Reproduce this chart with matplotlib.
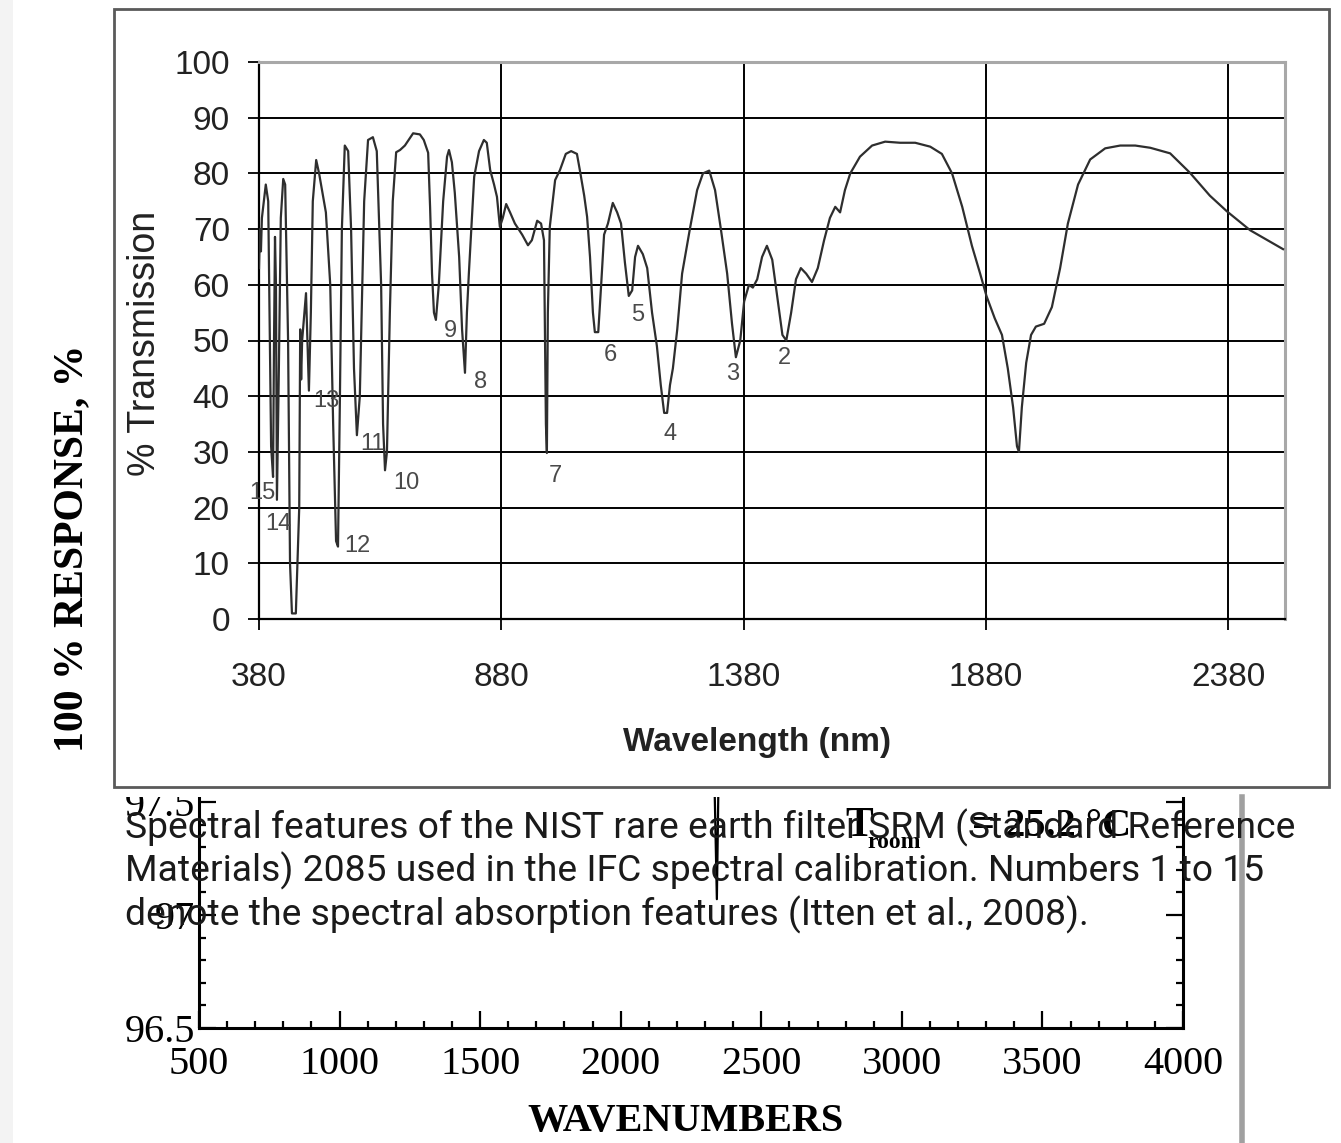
import matplotlib.pyplot as plt
from matplotlib.patches import Rectangle
from matplotlib.lines import Line2D
from matplotlib.ticker import MultipleLocator

# NIST SRM 2085 transmission spectrum
spec_nm = [380, 382, 384, 386, 394, 399, 405, 409, 411, 413, 415, 417, 421, 425,
           430, 434, 440, 444, 448, 456, 463, 465, 467, 469, 477, 483, 487, 491,
           498, 504, 510, 518, 527, 533, 539, 543, 547, 551, 557, 564, 570, 576,
           582, 588, 597, 605, 615, 623, 632, 636, 640, 644, 650, 656, 663, 671,
           681, 698, 712, 720, 729, 733, 737, 741, 745, 751, 760, 768, 772, 778,
           784, 793, 799, 805, 809, 813, 824, 834, 844, 850, 857, 865, 871, 877,
           883, 890, 898, 908, 923, 935, 943, 954, 962, 968, 972, 974, 976, 980,
           991, 1001, 1013, 1024, 1036, 1042, 1051, 1057, 1063, 1069, 1073, 1080,
           1086, 1092, 1100, 1110, 1119, 1127, 1135, 1143, 1150, 1156, 1162, 1172,
           1181, 1191, 1201, 1209, 1216, 1222, 1228, 1234, 1243, 1253, 1269, 1284,
           1296, 1309, 1321, 1333, 1346, 1356, 1364, 1373, 1381, 1391, 1399, 1408,
           1418, 1428, 1439, 1449, 1460, 1468, 1478, 1488, 1498, 1509, 1521, 1533,
           1546, 1558, 1569, 1579, 1589, 1600, 1620, 1645, 1672, 1703, 1734, 1765,
           1789, 1810, 1831, 1851, 1868, 1881, 1898, 1913, 1925, 1936, 1944, 1948,
           1954, 1963, 1973, 1983, 2000, 2016, 2033, 2049, 2070, 2095, 2126, 2157,
           2188, 2219, 2260, 2301, 2342, 2377, 2425, 2493]
spec_pct = [63, 70, 66, 72, 78, 75, 31, 25.5, 50, 68.6, 60, 21.4, 45, 72,
            79, 78, 50, 10, 1, 1, 20, 52, 43, 50, 58.5, 41, 55, 75,
            82.4, 80, 77, 73, 60, 35, 14, 13, 40, 70, 85, 84, 70, 45,
            33, 40, 75, 86, 86.5, 84, 60, 35, 26.7, 30, 55, 75, 83.8, 84.2,
            85, 87.2, 87, 86, 83.7, 74, 62, 55, 53.7, 60, 75, 83, 84.2, 82,
            76.5, 65, 52, 44.2, 55, 62, 79.4, 84, 86, 85.5, 80.6, 78, 75.8, 70.4,
            72, 74.5, 73, 71, 69, 67.1, 68, 71.5, 71, 68, 35, 29.8, 55, 70.4,
            78.8, 80.6, 83.5, 84, 83.5, 80.6, 76, 72.2, 65, 55, 51.5, 51.5,
            60, 69, 71, 74.7, 73, 71, 64, 58, 59, 65, 67, 65.5,
            63, 55, 49, 42, 37, 37, 42, 45, 52, 62, 70, 77,
            80, 80.5, 77, 70, 62, 53, 47, 50, 57, 60, 59.5, 61,
            65, 67, 64.5, 58, 51, 50, 55, 61, 63, 62, 60.5, 63,
            68, 72, 74, 73, 77, 80, 83, 85, 85.7, 85.5, 85.5, 84.8,
            83.5, 80, 74, 67, 62, 58, 54, 51, 45, 38, 31, 30,
            38, 46, 51, 52.5, 53, 56, 63, 71, 78, 82.5, 84.5, 85,
            85, 84.6, 83.6, 80.1, 76, 73.2, 69.8, 66.4]

feature_ids = ['2', '3', '4', '5', '6', '7', '8', '9', '10', '11', '12', '13', '14', '15']
feature_nm = [1465, 1358, 1228, 1162, 1106, 991, 838, 774, 685, 615, 582, 518, 419, 386]
feature_pct = [46.9, 44.0, 33.2, 54.6, 47.4, 25.7, 42.5, 51.7, 24.4, 31.4, 13.1, 39.1, 17.1, 22.6]

wl_ticks = [380, 880, 1380, 1880, 2380]
pct_ticks = [0, 10, 20, 30, 40, 50, 60, 70, 80, 90, 100]

# background (scanned) chart
bg_wavenumber = [500, 2300, 2330, 2342, 2350, 2365, 4000]
bg_response = [97.9, 97.9, 97.8, 97.07, 97.8, 97.9, 97.9]
wn_ticks = [500, 1000, 1500, 2000, 2500, 3000, 3500, 4000]
resp_ticks = [96.5, 97, 97.5]
resp_labels = ['96.5', '97', '97.5']

caption = ("Spectral features of the NIST rare earth filter SRM (Standard Reference\n"
           "Materials) 2085 used in the IFC spectral calibration. Numbers 1 to 15\n"
           "denote the spectral absorption features (Itten et al., 2008).")

W, H = 1341, 1143


def fx(px):
    return px / W


def fy(py):
    return 1 - py / H


fig = plt.figure(figsize=(W / 100, H / 100), dpi=100)

# faint scan edge on the left
fig.add_artist(Rectangle((0, 0), fx(13), 1, transform=fig.transFigure,
                         facecolor='#f3f3f3', edgecolor='none', zorder=-5))

# ---- lower, partly hidden chart ----
serif = 'Liberation Serif'
ax2 = fig.add_axes([fx(199), fy(1028), fx(1183) - fx(199), fy(689) - fy(1028)], zorder=0)
ax2.plot(bg_wavenumber, bg_response, color='black', lw=1.6)
ax2.set_xlim(500, 4000)
ax2.set_ylim(96.5, 98.0)
ax2.set_xticks(wn_ticks)
ax2.set_yticks(resp_ticks)
ax2.set_yticklabels(resp_labels)
ax2.xaxis.set_minor_locator(MultipleLocator(100))
ax2.yaxis.set_minor_locator(MultipleLocator(0.1))
ax2.tick_params(which='both', direction='in', right=True, top=False, width=1.6,
                labelsize=29, colors='black')
ax2.tick_params(which='major', length=12)
ax2.tick_params(which='minor', length=5)
ax2.tick_params(axis='x', pad=13)
ax2.tick_params(axis='y', pad=3)
for lab in ax2.get_xticklabels() + ax2.get_yticklabels():
    lab.set_family(serif)
ax2.spines['top'].set_visible(False)
for s in ['left', 'bottom', 'right']:
    ax2.spines[s].set_linewidth(2.2)
fig.text(fx(686), fy(1122), 'WAVENUMBERS', family=serif, weight='bold',
         fontsize=29, ha='center', va='center')
fig.text(fx(72), fy(548), '100 % RESPONSE, %', family=serif, weight='bold',
         fontsize=30, rotation=90, ha='center', va='center')
fig.text(fx(845), fy(826), 'T', family=serif, weight='bold', fontsize=30,
         ha='left', va='center')
fig.text(fx(867), fy(842), 'room', family=serif, weight='bold', fontsize=17,
         ha='left', va='center')
fig.text(fx(972), fy(826), '= 25.2 °C', family=serif, weight='bold', fontsize=29,
         ha='left', va='center')

# page edge shadow
fig.add_artist(Line2D([fx(1242), fx(1242)], [fy(797), 0], transform=fig.transFigure,
                      color='#a0a0a0', lw=4, zorder=2))

# ---- white cover with the spectrum screenshot ----
cover = fig.add_axes([fx(103), fy(797), 1 - fx(103), fy(0) - fy(797)], zorder=1)
cover.set_xlim(0, 1)
cover.set_ylim(0, 1)
cover.set_xticks([])
cover.set_yticks([])
for s in cover.spines.values():
    s.set_visible(False)
cover.add_patch(Rectangle(((114 - 103) / 1238, 10 / 797), (1329 - 114) / 1238,
                          (787 - 9) / 797, facecolor='white', edgecolor='#5a5a5a', lw=2))

sans = 'Liberation Sans'
ax = fig.add_axes([fx(259), fy(619), fx(1285) - fx(259), fy(62) - fy(619)], zorder=2)
ax.set_facecolor('none')
ax.plot(spec_nm, spec_pct, color='#2e2e2e', lw=1.6, zorder=3)
ax.set_xlim(380, 2497)
ax.set_ylim(0, 100)
ax.set_xticks(wl_ticks)
ax.set_yticks(pct_ticks)
ax.grid(True, color='black', lw=1.4)
ax.tick_params(direction='out', length=8, width=1.3, labelsize=24,
               labelcolor='#222222')
ax.tick_params(axis='x', pad=23)
ax.tick_params(axis='y', pad=13)
for lab in ax.get_xticklabels() + ax.get_yticklabels():
    lab.set_family(sans)
for s in ['left', 'bottom']:
    ax.spines[s].set_color('black')
    ax.spines[s].set_linewidth(1.6)
for s in ['top', 'right']:
    ax.spines[s].set_color('#a8a8a8')
    ax.spines[s].set_linewidth(2.2)

for fid, xn, yp in zip(feature_ids, feature_nm, feature_pct):
    ax.text(xn, yp, fid, family=sans, fontsize=17, color='#4a4a4a',
            ha='center', va='center', zorder=4)

ax.text(0.485, -0.221, 'Wavelength (nm)', transform=ax.transAxes, family=sans,
        weight='bold', fontsize=24, color='#222222', ha='center', va='center')
ax.text(-0.111, 0.4955, '% Transmission', transform=ax.transAxes, family=sans,
        fontsize=27, color='#222222', rotation=90, ha='center', va='center')

# caption over everything
fig.text(fx(125), fy(809), caption, family='Roboto', fontsize=26.8, color='#1a1a1a',
         ha='left', va='top', linespacing=1.16, zorder=10)

fig.savefig('out.png', dpi=100)
